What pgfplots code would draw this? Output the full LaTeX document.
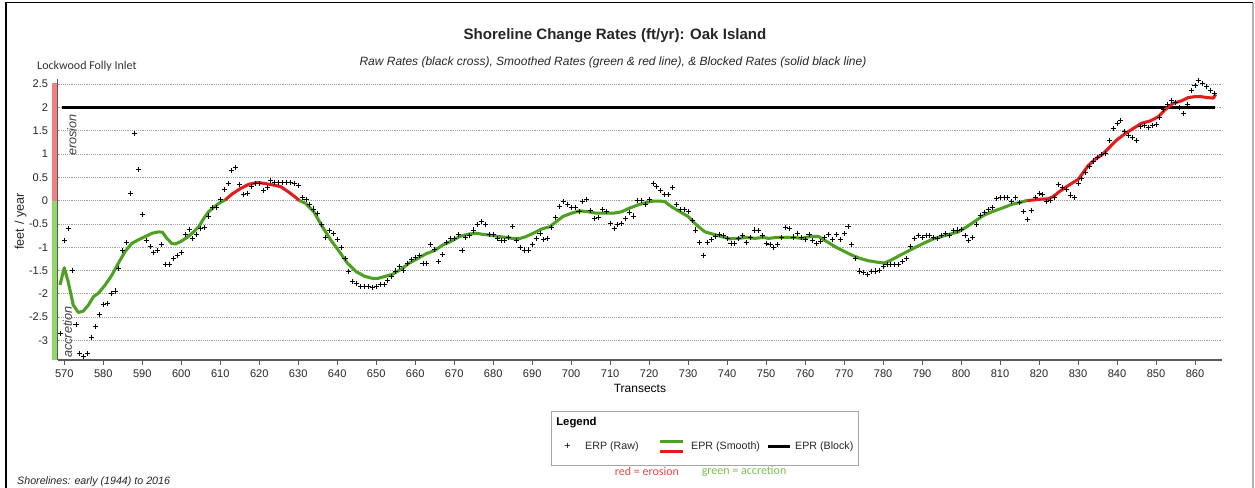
\documentclass[border=0pt]{standalone}
\usepackage{pgfplots}
\pgfplotsset{compat=1.18}
\usepackage{fontspec}
\setmainfont{Liberation Sans}
\newfontfamily\calibri{Carlito}
\definecolor{smgreen}{RGB}{78,160,32}
\definecolor{smred}{RGB}{228,28,28}
\definecolor{barred}{RGB}{240,128,128}
\definecolor{bargreen}{RGB}{146,214,104}
\definecolor{axgray}{RGB}{90,90,90}
\definecolor{txtred}{RGB}{232,70,70}
\definecolor{txtgreen}{RGB}{120,190,80}
\begin{document}
\begin{tikzpicture}
\useasboundingbox (-43.125pt,-96pt) rectangle (898.125pt,270pt);
\draw[line width=1.3pt] (-38.6pt,-98pt) -- (-38.6pt,268.1pt) -- (896.6pt,268.1pt);
\draw[line width=1pt, gray!60] (896.6pt,268.1pt) -- (896.6pt,-98pt);
\begin{axis}[
  at={(0pt,0pt)}, anchor=south west,
  scale only axis, width=873.6pt, height=210.4pt,
  xmin=568.26, xmax=867, ymin=-3.42, ymax=2.60,
  axis x line=bottom, axis y line=left,
  axis line style={-, axgray, line width=0.8pt},
  tick align=outside, major tick length=3.5pt,
  tick style={axgray, line width=0.6pt},
  xtick={570,580,...,860},
  ytick={-3,-2.5,...,2.5},
  ymajorgrids,
  grid style={densely dotted, gray!75, line width=0.5pt},
  /pgf/number format/assume math mode=true,
  ticklabel style={font=\fontsize{8.3}{10}\selectfont, text=black!85},
  xlabel={Transects},
  xlabel style={at={(axis description cs:0.5,0)}, anchor=center, yshift=-21pt, font=\fontsize{9}{10.8}\selectfont},
  clip=false,
]
\fill[barred] ([xshift=-4.4pt]axis cs:568.26,0) rectangle ([xshift=-0.4pt]axis cs:568.26,2.52);
\fill[bargreen] ([xshift=-4.4pt]axis cs:568.26,-3.42) rectangle ([xshift=-0.4pt]axis cs:568.26,0);
\node[rotate=90, font=\itshape\fontsize{9.5}{11}\selectfont, text=black!75] at (axis cs:571.97,1.41) {erosion};
\node[rotate=90, font=\itshape\fontsize{9.5}{11}\selectfont, text=black!75] at (axis cs:570.8,-2.82) {accretion};
% blocked rate
\addplot[black, line width=2.3pt] coordinates {(569.4,2) (865.1,2)};
% smoothed, green
\addplot[smgreen, line width=2.3pt, line join=round] coordinates {
(568.9,-1.81) (570.0,-1.44) (571.0,-1.74) (572.3,-2.24) (573.6,-2.40) (574.9,-2.37)
(576.2,-2.24) (577.5,-2.06) (578.7,-1.99) (580.5,-1.81) (582.2,-1.60) (583.9,-1.34)
(585.6,-1.09) (587.3,-0.92) (589.0,-0.84) (590.8,-0.77) (592.5,-0.70) (594.2,-0.67)
(595.2,-0.68) (596.3,-0.81) (597.6,-0.92) (598.5,-0.93) (599.8,-0.88) (601.5,-0.79)
(603.2,-0.67) (604.5,-0.56) (605.8,-0.38) (607.0,-0.24) (608.8,-0.11) (610.0,-0.04)
(611.2,0.01)};
\addplot[smred, line width=2.3pt, line join=round] coordinates {
(611.2,0.01) (613.0,0.14) (615.2,0.26) (617.3,0.35) (619.5,0.39) (621.2,0.37)
(623.3,0.34) (625.5,0.30) (627.6,0.18) (629.2,0.08) (630.3,0.0)};
\addplot[smgreen, line width=2.3pt, line join=round] coordinates {
(630.3,0.0) (631.9,-0.06) (634.0,-0.24) (636.2,-0.56) (638.3,-0.84) (640.5,-1.09)
(642.6,-1.34) (644.8,-1.52) (646.9,-1.62) (649.1,-1.67) (650.4,-1.67) (652.1,-1.63)
(654.2,-1.58) (656.4,-1.47) (658.5,-1.34) (660.7,-1.24) (662.8,-1.14) (665.0,-1.07)
(667.1,-0.95) (669.3,-0.87) (671.4,-0.77) (673.6,-0.72) (675.7,-0.70) (677.0,-0.72)
(679.1,-0.74) (681.3,-0.77) (683.4,-0.79) (685.6,-0.82) (686.9,-0.81) (688.2,-0.78)
(690.3,-0.70) (692.4,-0.61) (694.5,-0.56) (696.2,-0.45) (697.9,-0.34) (700.1,-0.27)
(702.2,-0.22) (704.4,-0.24) (706.5,-0.27) (708.6,-0.27) (710.8,-0.27) (712.9,-0.24)
(715.0,-0.16) (717.2,-0.09) (719.3,-0.04) (721.0,-0.01) (722.7,-0.01) (724.0,-0.02)
(725.7,-0.13) (727.9,-0.24) (730.0,-0.34) (732.1,-0.52) (734.3,-0.67) (736.4,-0.72)
(738.5,-0.77) (740.7,-0.82) (742.8,-0.81) (745.0,-0.79) (747.1,-0.81) (749.2,-0.79)
(750.6,-0.81) (752.7,-0.79) (754.9,-0.79) (757.0,-0.79) (759.1,-0.81) (761.3,-0.77)
(763.4,-0.77) (765.6,-0.88) (767.7,-0.99) (769.8,-1.08) (772.0,-1.17) (774.1,-1.24)
(776.2,-1.29) (778.4,-1.32) (780.3,-1.34) (782.2,-1.27) (784.4,-1.17) (786.5,-1.08)
(788.6,-0.99) (790.8,-0.90) (792.9,-0.82) (795.0,-0.77) (797.2,-0.72) (799.3,-0.67)
(801.5,-0.56) (803.6,-0.44) (805.7,-0.32) (807.9,-0.24) (810.9,-0.15) (813.0,-0.08)
(815.1,-0.04) (816.8,0.0)};
\addplot[smred, line width=2.3pt, line join=round] coordinates {
(816.8,0.0) (818.1,0.01) (820.3,0.03) (822.4,0.04) (823.7,0.09) (825.0,0.18)
(826.7,0.28) (828.4,0.37) (830.1,0.46) (831.4,0.61) (832.6,0.75) (834.4,0.89)
(836.1,0.98) (837.8,1.12) (839.9,1.30) (842.1,1.44) (844.2,1.55) (846.3,1.66)
(848.5,1.71) (850.6,1.80) (852.3,1.95) (854.4,2.09) (856.5,2.14) (858.2,2.21)
(859.9,2.23) (861.6,2.23) (863.3,2.21) (864.7,2.20) (865.3,2.28)};
% raw rates
\addplot[only marks, mark=+, mark size=1.9pt, mark options={black, line width=0.7pt}] coordinates {
(569,-2.85) (570,-0.85) (571,-0.59) (572,-1.49) (573,-2.65) (574,-3.28) (575,-3.35)
(576,-3.28) (577,-2.93) (578,-2.70) (579,-2.45) (580,-2.22) (581,-2.21) (582,-2.00)
(583,-1.94) (584,-1.45) (585,-1.07) (586,-0.89) (587,0.16) (588,1.44) (589,0.66)
(590,-0.29) (591,-0.86) (592,-0.99) (593,-1.12) (594,-1.07) (595,-0.94) (596,-1.37)
(597,-1.37) (598,-1.24) (599,-1.17) (600,-1.12) (601,-0.72) (602,-0.62) (603,-0.81)
(604,-0.72) (605,-0.59) (606,-0.57) (607,-0.33) (608,-0.15) (609,-0.15) (610,0.03)
(611,0.23) (612,0.36) (613,0.64) (614,0.71) (615,0.35) (616,0.14) (617,0.16)
(618,0.30) (619,0.37) (620,0.36) (621,0.21) (622,0.28) (623,0.44) (624,0.39)
(625,0.38) (626,0.38) (627,0.39) (628,0.38) (629,0.36) (630,0.33) (631,0.07)
(632,0.03) (633,-0.08) (634,-0.18) (635,-0.27) (636,-0.52) (637,-0.79) (638,-0.65)
(639,-0.70) (640,-0.84) (641,-1.01) (642,-1.24) (643,-1.52) (644,-1.74) (645,-1.77)
(646,-1.85) (647,-1.85) (648,-1.85) (649,-1.86) (650,-1.85) (651,-1.80) (652,-1.80)
(653,-1.72) (654,-1.63) (655,-1.51) (656,-1.42) (657,-1.49) (658,-1.34) (659,-1.27)
(660,-1.22) (661,-1.18) (662,-1.34) (663,-1.34) (664,-0.95) (665,-1.05) (666,-1.31)
(667,-1.15) (668,-0.89) (669,-0.81) (670,-0.81) (671,-0.72) (672,-1.08) (673,-0.79)
(674,-0.74) (675,-0.63) (676,-0.51) (677,-0.45) (678,-0.52) (679,-0.72) (680,-0.72)
(681,-0.81) (682,-0.86) (683,-0.86) (684,-0.80) (685,-0.56) (686,-0.86) (687,-1.01)
(688,-1.06) (689,-1.06) (690,-0.95) (691,-0.81) (692,-0.70) (693,-0.84) (694,-0.81)
(695,-0.58) (696,-0.36) (697,-0.13) (698,-0.02) (699,-0.08) (700,-0.15) (701,-0.15)
(702,-0.24) (703,-0.02) (704,0.02) (705,-0.22) (706,-0.38) (707,-0.36) (708,-0.20)
(709,-0.24) (710,-0.49) (711,-0.59) (712,-0.52) (713,-0.50) (714,-0.38) (715,-0.25)
(716,-0.33) (717,0.00) (718,0.00) (719,-0.09) (720,0.02) (721,0.37) (722,0.30)
(723,0.21) (724,0.14) (725,0.14) (726,0.28) (727,-0.08) (728,-0.20) (729,-0.20)
(730,-0.24) (731,-0.42) (732,-0.63) (733,-0.89) (734,-1.17) (735,-0.89) (736,-0.84)
(737,-0.76) (738,-0.72) (739,-0.75) (740,-0.81) (741,-0.92) (742,-0.92) (743,-0.82)
(744,-0.74) (745,-0.89) (746,-0.80) (747,-0.63) (748,-0.65) (749,-0.74) (750,-0.92)
(751,-0.95) (752,-1.01) (753,-0.94) (754,-0.79) (755,-0.57) (756,-0.59) (757,-0.78)
(758,-0.70) (759,-0.80) (760,-0.84) (761,-0.72) (762,-0.86) (763,-0.92) (764,-0.88)
(765,-0.80) (766,-0.72) (767,-0.84) (768,-0.72) (769,-0.84) (770,-0.70) (771,-0.56)
(772,-0.95) (773,-1.25) (774,-1.51) (775,-1.54) (776,-1.58) (777,-1.52) (778,-1.51)
(779,-1.49) (780,-1.42) (781,-1.38) (782,-1.37) (783,-1.37) (784,-1.37) (785,-1.31)
(786,-1.25) (787,-0.99) (788,-0.81) (789,-0.74) (790,-0.79) (791,-0.75) (792,-0.75)
(793,-0.80) (794,-0.81) (795,-0.75) (796,-0.70) (797,-0.74) (798,-0.65) (799,-0.63)
(800,-0.62) (801,-0.74) (802,-0.86) (803,-0.79) (804,-0.52) (805,-0.31) (806,-0.25)
(807,-0.20) (808,-0.15) (809,0.04) (810,0.06) (811,0.06) (812,0.06) (813,-0.01)
(814,0.06) (815,-0.05) (816,-0.24) (817,-0.41) (818,-0.22) (819,0.06) (820,0.16)
(821,0.14) (822,-0.02) (823,0.01) (824,0.06) (825,0.35) (826,0.28) (827,0.23)
(828,0.12) (829,0.06) (830,0.37) (831,0.48) (832,0.61) (833,0.73) (834,0.85)
(835,0.92) (836,0.98) (837,1.02) (838,1.30) (839,1.55) (840,1.66) (841,1.71)
(842,1.48) (843,1.39) (844,1.36) (845,1.30) (846,1.59) (847,1.62) (848,1.57)
(849,1.62) (850,1.64) (851,1.78) (852,1.95) (853,2.07) (854,2.14) (855,2.11)
(856,2.00) (857,1.87) (858,2.07) (859,2.37) (860,2.48) (861,2.57) (862,2.52)
(863,2.45) (864,2.37) (865,2.30)};
\end{axis}
% y label
\node[rotate=90, font=\fontsize{9.5}{11}\selectfont, text=black!85] at (-27.6pt,103.9pt) {feet / year};
% titles
\node[font=\bfseries\fontsize{11.3}{13}\selectfont, text=black!85] at (418.1pt,243pt) {Shoreline Change Rates (ft/yr): Oak Island};
\node[font=\itshape\fontsize{9}{11}\selectfont, text=black!85] at (416.6pt,223.1pt) {Raw Rates (black cross), Smoothed Rates (green \& red line), \& Blocked Rates (solid black line)};
\node[anchor=west, inner sep=0pt, font=\calibri\fontsize{9}{11}\selectfont, text=black!80] at (-15.4pt,220.5pt) {Lockwood Folly Inlet};
\node[anchor=west, inner sep=0pt, font=\itshape\fontsize{8}{10}\selectfont, text=black!85] at (-30.4pt,-91.3pt) {Shorelines: early (1944) to 2016};
% legend
\draw[gray!70, line width=0.6pt] (370.1pt,-38.8pt) rectangle (600.4pt,-78.75pt);
\node[anchor=west, inner sep=0pt, font=\bfseries\fontsize{8.5}{10}\selectfont] at (373.9pt,-47pt) {Legend};
\node[inner sep=0pt, font=\fontsize{8}{10}\selectfont] at (382.4pt,-65pt) {+};
\node[anchor=west, inner sep=0pt, font=\fontsize{8}{10}\selectfont, text=black!85] at (395.6pt,-65pt) {ERP (Raw)};
\draw[smgreen, line width=2.2pt] (451.9pt,-61.3pt) -- (468.9pt,-61.3pt);
\draw[smred, line width=2.2pt] (451.9pt,-68.8pt) -- (468.9pt,-68.8pt);
\node[anchor=west, inner sep=0pt, font=\fontsize{8}{10}\selectfont, text=black!85] at (475.1pt,-65pt) {EPR (Smooth)};
\draw[black, line width=2.2pt] (532.9pt,-65pt) -- (549.4pt,-65pt);
\node[anchor=west, inner sep=0pt, font=\fontsize{8}{10}\selectfont, text=black!85] at (553.1pt,-65pt) {EPR (Block)};
\node[inner sep=0pt, font=\calibri\fontsize{9}{11}\selectfont, text=txtred] at (442.1pt,-83.8pt) {red = erosion};
\node[inner sep=0pt, font=\calibri\fontsize{9}{11}\selectfont, text=txtgreen] at (514.9pt,-83.8pt) {green = accretion};
\end{tikzpicture}
\end{document}
